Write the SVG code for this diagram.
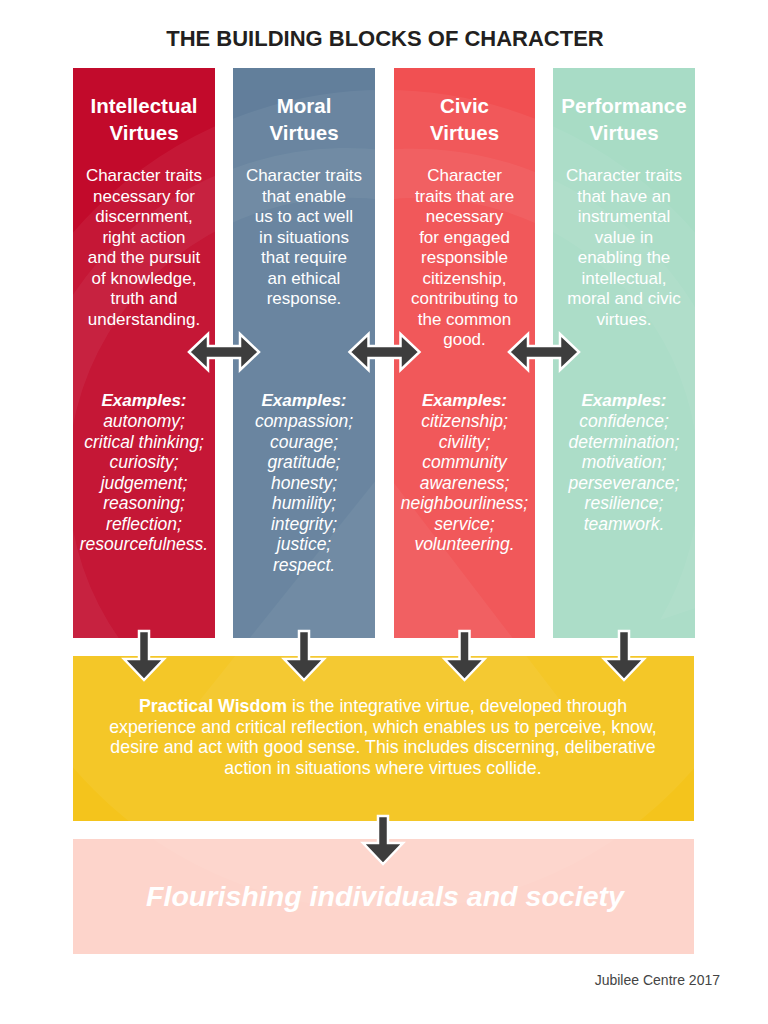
<svg xmlns="http://www.w3.org/2000/svg" width="768" height="1024" viewBox="0 0 768 1024">
<style>
  .t { font-family: "Liberation Sans", Arial, sans-serif; fill: #ffffff; text-anchor: middle; }
  .title { font-family: "Liberation Sans", Arial, sans-serif; font-weight: bold; font-size: 22px; fill: #231f20; text-anchor: middle; }
  .head { font-weight: bold; font-size: 20.5px; }
  .desc { font-size: 17px; }
  .para { font-size: 17.8px; }
  .exh { font-size: 17px; font-weight: bold; font-style: italic; }
  .ex { font-size: 17.5px; font-style: italic; }
  .arrow { fill: #3d3d3d; stroke: #ffffff; stroke-width: 2.5; stroke-linejoin: miter; }
  .glow { fill: #ffffff; opacity: 0.05; }
</style>
<defs>
  <clipPath id="boxes">
    <rect x="73" y="68" width="142" height="570"/>
    <rect x="233" y="68" width="142" height="570"/>
    <rect x="394" y="68" width="141" height="570"/>
    <rect x="553" y="68" width="142" height="570"/>
    <rect x="73" y="656" width="621" height="165"/>
    <rect x="73" y="839" width="621" height="115"/>
  </clipPath>
</defs>
<rect width="768" height="1024" fill="#ffffff"/>
<text class="title" x="385" y="46">THE BUILDING BLOCKS OF CHARACTER</text>

<g id="intellectual">
  <rect x="73" y="68" width="142" height="570" fill="#c20b2c"/>
</g>
<g id="moral">
  <rect x="233" y="68" width="142" height="570" fill="#627f9b"/>
</g>
<g id="civic">
  <rect x="394" y="68" width="141" height="570" fill="#f15052"/>
</g>
<g id="performance">
  <rect x="553" y="68" width="142" height="570" fill="#a8dcc6"/>
</g>
<g id="practical-wisdom">
  <rect x="73" y="656" width="621" height="165" fill="#f4c51d"/>
</g>
<g id="flourishing">
  <rect x="73" y="839" width="621" height="115" fill="#fdd4cb"/>
</g>

<g id="pattern" clip-path="url(#boxes)">
  <path class="glow" d="M384 150 A330 330 0 0 0 60 640 L120 640 A280 280 0 0 1 384 200 Z"/>
  <path class="glow" d="M384 150 A330 330 0 0 1 720 600 L660 620 A280 280 0 0 0 384 200 Z"/>
  <path class="glow" d="M200 700 L384 470 L560 700 Z"/>
  <circle class="glow" cx="384" cy="500" r="390" fill="none" stroke="#ffffff" stroke-width="40"/>
</g>

<g id="intellectual-text" class="t">
  <text class="head" x="144" y="113">Intellectual</text>
  <text class="head" x="144" y="140">Virtues</text>
  <text class="desc" x="144" y="181">Character traits</text>
  <text class="desc" x="144" y="201.5">necessary for</text>
  <text class="desc" x="144" y="222">discernment,</text>
  <text class="desc" x="144" y="242.5">right action</text>
  <text class="desc" x="144" y="263">and the pursuit</text>
  <text class="desc" x="144" y="283.5">of knowledge,</text>
  <text class="desc" x="144" y="304">truth and</text>
  <text class="desc" x="144" y="324.5">understanding.</text>
  <text class="exh" x="144" y="406">Examples:</text>
  <text class="ex" x="144" y="427">autonomy;</text>
  <text class="ex" x="144" y="447.5">critical thinking;</text>
  <text class="ex" x="144" y="468">curiosity;</text>
  <text class="ex" x="144" y="488.5">judgement;</text>
  <text class="ex" x="144" y="509">reasoning;</text>
  <text class="ex" x="144" y="529.5">reflection;</text>
  <text class="ex" x="144" y="550">resourcefulness.</text>
</g>

<g id="moral-text" class="t">
  <text class="head" x="304" y="113">Moral</text>
  <text class="head" x="304" y="140">Virtues</text>
  <text class="desc" x="304" y="181">Character traits</text>
  <text class="desc" x="304" y="201.5">that enable</text>
  <text class="desc" x="304" y="222">us to act well</text>
  <text class="desc" x="304" y="242.5">in situations</text>
  <text class="desc" x="304" y="263">that require</text>
  <text class="desc" x="304" y="283.5">an ethical</text>
  <text class="desc" x="304" y="304">response.</text>
  <text class="exh" x="304" y="406">Examples:</text>
  <text class="ex" x="304" y="427">compassion;</text>
  <text class="ex" x="304" y="447.5">courage;</text>
  <text class="ex" x="304" y="468">gratitude;</text>
  <text class="ex" x="304" y="488.5">honesty;</text>
  <text class="ex" x="304" y="509">humility;</text>
  <text class="ex" x="304" y="529.5">integrity;</text>
  <text class="ex" x="304" y="550">justice;</text>
  <text class="ex" x="304" y="570.5">respect.</text>
</g>

<g id="civic-text" class="t">
  <text class="head" x="464.5" y="113">Civic</text>
  <text class="head" x="464.5" y="140">Virtues</text>
  <text class="desc" x="464.5" y="181">Character</text>
  <text class="desc" x="464.5" y="201.5">traits that are</text>
  <text class="desc" x="464.5" y="222">necessary</text>
  <text class="desc" x="464.5" y="242.5">for engaged</text>
  <text class="desc" x="464.5" y="263">responsible</text>
  <text class="desc" x="464.5" y="283.5">citizenship,</text>
  <text class="desc" x="464.5" y="304">contributing to</text>
  <text class="desc" x="464.5" y="324.5">the common</text>
  <text class="desc" x="464.5" y="345">good.</text>
  <text class="exh" x="464.5" y="406">Examples:</text>
  <text class="ex" x="464.5" y="427">citizenship;</text>
  <text class="ex" x="464.5" y="447.5">civility;</text>
  <text class="ex" x="464.5" y="468">community</text>
  <text class="ex" x="464.5" y="488.5">awareness;</text>
  <text class="ex" x="464.5" y="509">neighbourliness;</text>
  <text class="ex" x="464.5" y="529.5">service;</text>
  <text class="ex" x="464.5" y="550">volunteering.</text>
</g>

<g id="performance-text" class="t">
  <text class="head" x="624" y="113">Performance</text>
  <text class="head" x="624" y="140">Virtues</text>
  <text class="desc" x="624" y="181">Character traits</text>
  <text class="desc" x="624" y="201.5">that have an</text>
  <text class="desc" x="624" y="222">instrumental</text>
  <text class="desc" x="624" y="242.5">value in</text>
  <text class="desc" x="624" y="263">enabling the</text>
  <text class="desc" x="624" y="283.5">intellectual,</text>
  <text class="desc" x="624" y="304">moral and civic</text>
  <text class="desc" x="624" y="324.5">virtues.</text>
  <text class="exh" x="624" y="406">Examples:</text>
  <text class="ex" x="624" y="427">confidence;</text>
  <text class="ex" x="624" y="447.5">determination;</text>
  <text class="ex" x="624" y="468">motivation;</text>
  <text class="ex" x="624" y="488.5">perseverance;</text>
  <text class="ex" x="624" y="509">resilience;</text>
  <text class="ex" x="624" y="529.5">teamwork.</text>
</g>

<g id="practical-wisdom-text" class="t">
  <text class="para" x="383" y="712"><tspan font-weight="bold">Practical Wisdom</tspan> is the integrative virtue, developed through</text>
  <text class="para" x="383" y="732.5">experience and critical reflection, which enables us to perceive, know,</text>
  <text class="para" x="383" y="753">desire and act with good sense. This includes discerning, deliberative</text>
  <text class="para" x="383" y="773.5">action in situations where virtues collide.</text>
</g>

<g id="flourishing-text" class="t">
  <text x="385" y="906" font-size="28" font-weight="bold" font-style="italic" textLength="478" lengthAdjust="spacingAndGlyphs">Flourishing individuals and society</text>
</g>

<g id="connectors">
  <path class="arrow" d="M189 352 L208 334 L208 346 L240 346 L240 334 L259 352 L240 370 L240 358 L208 358 L208 370 Z"/>
  <path class="arrow" d="M349.5 352 L368.5 334 L368.5 346 L400.5 346 L400.5 334 L419.5 352 L400.5 370 L400.5 358 L368.5 358 L368.5 370 Z"/>
  <path class="arrow" d="M509 352 L528 334 L528 346 L560 346 L560 334 L579 352 L560 370 L560 358 L528 358 L528 370 Z"/>

  <path class="arrow" d="M139 631 L149 631 L149 659 L164 659 L144 680 L124 659 L139 659 Z"/>
  <path class="arrow" d="M299 631 L309 631 L309 659 L324 659 L304 680 L284 659 L299 659 Z"/>
  <path class="arrow" d="M459.5 631 L469.5 631 L469.5 659 L484.5 659 L464.5 680 L444.5 659 L459.5 659 Z"/>
  <path class="arrow" d="M619 631 L629 631 L629 659 L644 659 L624 680 L604 659 L619 659 Z"/>

  <path class="arrow" d="M378 816 L388 816 L388 843 L403 843 L383 864 L363 843 L378 843 Z"/>
</g>

<text x="720" y="985" font-family="'Liberation Sans', Arial, sans-serif" font-size="14" fill="#444444" text-anchor="end">Jubilee Centre 2017</text>
</svg>
